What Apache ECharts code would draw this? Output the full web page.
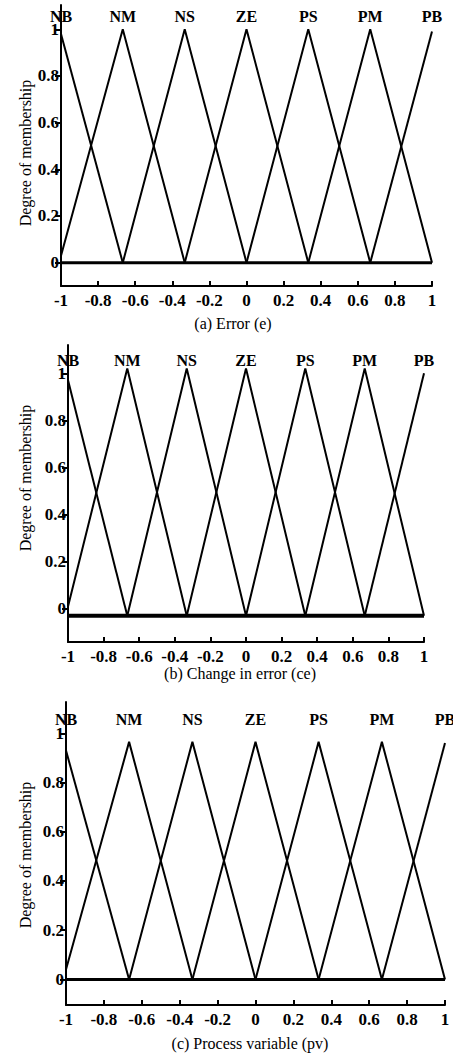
<!DOCTYPE html>
<html>
<head>
<meta charset="utf-8">
<style>
  html, body { margin: 0; padding: 0; background: #fff; }
  #chart { width: 453px; height: 1061px; }
</style>
<script src="https://cdn.jsdelivr.net/npm/echarts@6/dist/echarts.min.js"></script>
</head>
<body>
<div id="chart"></div>
<script>
// ---- data ----
const setNames = ['NB', 'NM', 'NS', 'ZE', 'PS', 'PM', 'PB'];
const centers = [-1, -0.667, -0.333, 0, 0.333, 0.667, 1];
const xTickValues = [-1, -0.8, -0.6, -0.4, -0.2, 0, 0.2, 0.4, 0.6, 0.8, 1];
const yTickValues = [0, 0.2, 0.4, 0.6, 0.8, 1];

// peak heights of each triangle (NB value at -1, PB value at 1)
const peaksA = [0.98, 1.0, 1.0, 1.0, 1.0, 1.0, 0.99];
const peaksB = [0.97, 1.02, 1.02, 1.02, 1.02, 1.02, 1.0];
const peaksC = [0.93, 0.965, 0.965, 0.965, 0.965, 0.965, 0.96];
// base (foot) level of the triangles and NM's left foot at -1
const baseA = 0,     nmFootA = 0.03;
const baseB = -0.03, nmFootB = 0.01;
const baseC = 0,     nmFootC = 0.04;

const axisTitlesX = ['(a) Error (e)', '(b) Change in error (ce)', '(c) Process variable (pv)'];
const axisTitleY = 'Degree of membership';

// ---- layout / style ----
const FONT = 'Liberation Serif';
const panels = [
  { peaks: peaksA, base: baseA, nmFoot: nmFootA, baseW: 3,
    grid: { left: 61, top: 5, width: 371, height: 281 }, ymin: -0.1, ymax: 1.104,
    xName: [233, 323], yName: [25, 153] },
  { peaks: peaksB, base: baseB, nmFoot: nmFootB, baseW: 4,
    grid: { left: 68, top: 345, width: 356, height: 297 }, ymin: -0.141, ymax: 1.12,
    xName: [240, 673], yName: [25, 478] },
  { peaks: peaksC, base: baseC, nmFoot: nmFootC, baseW: 3,
    grid: { left: 66, top: 702, width: 379, height: 303 }, ymin: -0.104, ymax: 1.127,
    xName: [250, 1043], yName: [25, 855] }
];

const grids = [], xAxes = [], yAxes = [], series = [], graphics = [];
const tickFont = { color: '#000', fontFamily: FONT, fontWeight: 'bold', fontSize: 17 };

panels.forEach((p, k) => {
  grids.push(p.grid);
  xAxes.push({
    gridIndex: k, type: 'value', min: -1, max: 1, interval: 0.2,
    position: 'bottom',
    axisLine: { onZero: false, lineStyle: { color: '#000', width: 2 } },
    axisTick: { inside: true, length: 5, lineStyle: { color: '#000', width: 2 } },
    axisLabel: Object.assign({ margin: 6, customValues: xTickValues }, tickFont),
    splitLine: { show: false }
  });
  yAxes.push({
    gridIndex: k, type: 'value', min: p.ymin, max: p.ymax,
    axisLine: { show: true, onZero: false, lineStyle: { color: '#000', width: 2 } },
    axisTick: { show: true, length: 6, customValues: yTickValues, lineStyle: { color: '#000', width: 2 } },
    axisLabel: Object.assign({ margin: 2, customValues: yTickValues }, tickFont),
    splitLine: { show: false }
  });

  // baseline at zero level
  series.push({
    type: 'line', xAxisIndex: k, yAxisIndex: k, symbol: 'none', silent: true,
    lineStyle: { color: '#000', width: p.baseW },
    data: [[-1, p.base], [1, p.base]]
  });

  // triangles
  for (let i = 0; i < centers.length; i++) {
    const pts = [];
    if (i > 0) pts.push([centers[i - 1], i === 1 ? p.nmFoot : p.base]);
    pts.push([centers[i], p.peaks[i]]);
    if (i < centers.length - 1) pts.push([centers[i + 1], p.base]);
    series.push({
      type: 'line', name: setNames[i], xAxisIndex: k, yAxisIndex: k,
      symbol: 'none', silent: true,
      lineStyle: { color: '#000', width: 2 },
      data: pts
    });
  }

  // set names above peaks
  series.push({
    type: 'scatter', xAxisIndex: k, yAxisIndex: k, silent: true,
    symbolSize: 1, itemStyle: { color: 'rgba(0,0,0,0)' },
    label: { show: true, position: 'inside', formatter: '{b}',
      color: '#000', textBorderWidth: 0, opacity: 1,
      fontFamily: FONT, fontWeight: 'bold', fontSize: 16 },
    data: setNames.map((n, i) => ({ name: n, value: [centers[i], 1.055] }))
  });

  graphics.push({
    type: 'text', x: p.xName[0], y: p.xName[1],
    style: { text: axisTitlesX[k], font: '16px "Liberation Serif"', fill: '#000',
      align: 'center', verticalAlign: 'middle', textAlign: 'center', textVerticalAlign: 'middle' }
  });
  graphics.push({
    type: 'text', x: p.yName[0], y: p.yName[1], rotation: Math.PI / 2,
    style: { text: axisTitleY, font: '16px "Liberation Serif"', fill: '#000',
      align: 'center', verticalAlign: 'middle', textAlign: 'center', textVerticalAlign: 'middle' }
  });
});

const chart = echarts.init(document.getElementById('chart'), null, { renderer: 'svg' });
chart.setOption({
  animation: false,
  backgroundColor: '#fff',
  grid: grids,
  xAxis: xAxes,
  yAxis: yAxes,
  series: series,
  graphic: graphics
});
</script>
</body>
</html>
